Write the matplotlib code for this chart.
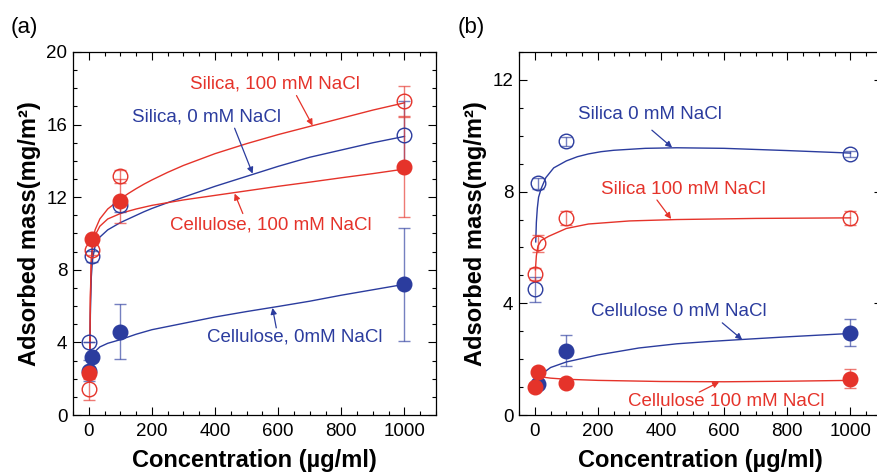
import matplotlib
matplotlib.use('Agg')
import matplotlib.pyplot as plt
from matplotlib.ticker import MultipleLocator

plt.rcParams['font.family'] = ['Liberation Sans', 'DejaVu Sans']

BLUE = '#2b3c9e'
RED = '#e5332a'

# ---------------------------------------------------------------------------
# Measured points (x in ug/ml)
# ---------------------------------------------------------------------------
conc = [1, 10, 100, 1000]

# panel (a)
a_silica0 = [4.0, 8.75, 11.55, 15.4]
a_silica0_err = [0.0, 0.3, 0.35, 1.9]
a_silica100 = [1.45, 9.1, 13.15, 17.3]
a_silica100_err = [0.6, 0.3, 0.35, 0.85]
a_cell0 = [2.45, 3.2, 4.6, 7.2]
a_cell0_err = [0.6, 0.2, 1.5, 3.1]
a_cell100 = [2.3, 9.7, 11.8, 13.65]
a_cell100_err = [0.3, 0.2, 1.2, 2.75]

# panel (b)
b_silica0 = [4.5, 8.3, 9.8, 9.35]
b_silica0_err = [0.45, 0.2, 0.15, 0.12]
b_silica100 = [5.05, 6.15, 7.05, 7.05]
b_silica100_err = [0.2, 0.3, 0.25, 0.25]
b_cell0_conc = [10, 100, 1000]
b_cell0 = [1.1, 2.3, 2.95]
b_cell0_err = [0.15, 0.55, 0.48]
b_cell100 = [1.0, 1.55, 1.15, 1.3]
b_cell100_err = [0.15, 0.0, 0.0, 0.35]

# ---------------------------------------------------------------------------
# Fitted curves
# ---------------------------------------------------------------------------
fit_x_a = [3, 5, 8, 12, 20, 35, 60, 100, 125, 150, 175, 200, 250, 300, 400, 500,
           600, 700, 800, 900, 1000]
a_silica100_fit = [2.2, 6.5, 8.6, 9.5, 10.2, 10.8, 11.35, 11.9, 12.2, 12.47, 12.72,
                   12.95, 13.37, 13.75, 14.4, 14.95, 15.45, 15.9, 16.35, 16.8, 17.2]
a_silica0_fit = [2.5, 5.5, 7.6, 8.6, 9.3, 9.8, 10.2, 10.6, 10.8, 11.0, 11.2,
                 11.38, 11.7, 12.0, 12.6, 13.15, 13.7, 14.2, 14.6, 15.0, 15.35]
a_cell100_fit = [2.2, 6.3, 8.4, 9.3, 9.9, 10.4, 10.8, 11.1, 11.23, 11.35, 11.45,
                 11.55, 11.7, 11.85, 12.1, 12.35, 12.6, 12.83, 13.07, 13.3, 13.55]
fit_x_a_cell0 = [10, 12, 20, 35, 60, 100, 150, 200, 300, 400, 500, 600, 700, 800, 900, 1000]
a_cell0_fit = [3.15, 3.25, 3.5, 3.75, 3.95, 4.15, 4.45, 4.7, 5.05, 5.4, 5.7, 5.98,
               6.27, 6.6, 6.9, 7.2]

fit_x_b_silica0 = [3, 5, 8, 12, 20, 35, 60, 100, 135, 170, 210, 250, 350, 450, 600, 800, 1000]
b_silica0_fit = [6.2, 6.9, 7.4, 7.8, 8.1, 8.5, 8.85, 9.1, 9.25, 9.35, 9.43, 9.48,
                 9.55, 9.57, 9.55, 9.47, 9.38]
fit_x_b_silica100 = [2, 5, 10, 20, 44, 100, 170, 300, 450, 700, 1000]
b_silica100_fit = [5.2, 5.7, 6.05, 6.25, 6.4, 6.68, 6.84, 6.95, 7.0, 7.04, 7.06]
fit_x_b_cell0 = [10, 20, 50, 100, 200, 330, 450, 550, 650, 800, 1000]
b_cell0_fit = [1.2, 1.45, 1.7, 1.9, 2.15, 2.4, 2.55, 2.63, 2.7, 2.8, 2.92]
fit_x_b_cell100 = [10, 50, 100, 200, 400, 600, 800, 1000]
b_cell100_fit = [1.38, 1.32, 1.28, 1.24, 1.2, 1.19, 1.21, 1.24]


def points(ax, x, y, err, color, filled):
    ax.errorbar(x, y, yerr=err, fmt='none', ecolor=color, elinewidth=1.0,
                capsize=4.5, capthick=1.0, alpha=0.65, zorder=3)
    ax.plot(x, y, 'o', ms=10.5, mec=color, mew=1.0,
            mfc=color if filled else 'none', zorder=4, linestyle='none')


def label(ax, text, txy, tail, tip, color):
    ax.text(txy[0], txy[1], text, color=color, fontsize=13.5,
            ha='center', va='center', zorder=5)
    ax.annotate('', xy=tip, xytext=tail,
                arrowprops=dict(arrowstyle='-|>', color=color, lw=0.9,
                                mutation_scale=9, shrinkA=0, shrinkB=0),
                zorder=5)


def style(ax, ymax, ymajor):
    ax.set_xlim(-50, 1100)
    ax.set_ylim(0, ymax)
    ax.xaxis.set_major_locator(MultipleLocator(200))
    ax.xaxis.set_minor_locator(MultipleLocator(50))
    ax.yaxis.set_major_locator(MultipleLocator(ymajor))
    ax.yaxis.set_minor_locator(MultipleLocator(1))
    ax.tick_params(which='both', direction='in', top=True, right=True,
                   width=0.8, labelsize=13.5)
    ax.tick_params(which='major', length=6)
    ax.tick_params(which='minor', length=3)
    ax.tick_params(axis='x', pad=6)
    ax.tick_params(axis='y', pad=4)
    for sp in ax.spines.values():
        sp.set_linewidth(0.9)
    ax.set_xlabel('Concentration (\u00b5g/ml)', fontsize=17, fontweight='bold', labelpad=6)
    ax.set_ylabel('Adsorbed mass(mg/m\u00b2)', fontsize=17, fontweight='bold', labelpad=4)


fig = plt.figure(figsize=(8.78, 4.76), dpi=100)
ax_a = fig.add_axes([73 / 878, 61 / 476, 363 / 878, 363 / 476])
ax_b = fig.add_axes([519 / 878, 61 / 476, 363 / 878, 363 / 476])

# ---- panel (a)
ax_a.plot(fit_x_a, a_silica100_fit, color=RED, lw=1.0, zorder=2)
ax_a.plot(fit_x_a, a_silica0_fit, color=BLUE, lw=1.0, zorder=2)
ax_a.plot(fit_x_a, a_cell100_fit, color=RED, lw=1.0, zorder=2)
ax_a.plot(fit_x_a_cell0, a_cell0_fit, color=BLUE, lw=1.0, zorder=2)

points(ax_a, conc, a_silica0, a_silica0_err, BLUE, False)
points(ax_a, conc, a_silica100, a_silica100_err, RED, False)
points(ax_a, conc, a_cell0, a_cell0_err, BLUE, True)
points(ax_a, conc, a_cell100, a_cell100_err, RED, True)

label(ax_a, 'Silica, 100 mM NaCl', (589, 18.25), (658, 17.6), (709, 15.95), RED)
label(ax_a, 'Silica, 0 mM NaCl', (373, 16.4), (462, 15.8), (519, 13.3), BLUE)
label(ax_a, 'Cellulose, 100 mM NaCl', (578, 10.45), (488, 11.1), (462, 12.2), RED)
label(ax_a, 'Cellulose, 0mM NaCl', (652, 4.3), (594, 4.8), (582, 5.9), BLUE)
style(ax_a, 20, 4)

# ---- panel (b)
ax_b.plot(fit_x_b_silica0, b_silica0_fit, color=BLUE, lw=1.0, zorder=2)
ax_b.plot(fit_x_b_silica100, b_silica100_fit, color=RED, lw=1.0, zorder=2)
ax_b.plot(fit_x_b_cell0, b_cell0_fit, color=BLUE, lw=1.0, zorder=2)
ax_b.plot(fit_x_b_cell100, b_cell100_fit, color=RED, lw=1.0, zorder=2)

points(ax_b, conc, b_silica0, b_silica0_err, BLUE, False)
points(ax_b, conc, b_silica100, b_silica100_err, RED, False)
points(ax_b, b_cell0_conc, b_cell0, b_cell0_err, BLUE, True)
points(ax_b, conc, b_cell100, b_cell100_err, RED, True)

label(ax_b, 'Silica 0 mM NaCl', (365, 10.75), (371, 10.2), (435, 9.58), BLUE)
label(ax_b, 'Silica 100 mM NaCl', (470, 8.07), (387, 7.7), (432, 7.02), RED)
label(ax_b, 'Cellulose 0 mM NaCl', (457, 3.7), (594, 3.3), (657, 2.7), BLUE)
label(ax_b, 'Cellulose 100 mM NaCl', (607, 0.5), (521, 0.82), (584, 1.18), RED)
style(ax_b, 13, 4)

fig.text(24 / 878, 1 - 27 / 476, '(a)', fontsize=16, ha='center', va='center')
fig.text(471 / 878, 1 - 27 / 476, '(b)', fontsize=16, ha='center', va='center')

fig.savefig('out.png', dpi=100)
